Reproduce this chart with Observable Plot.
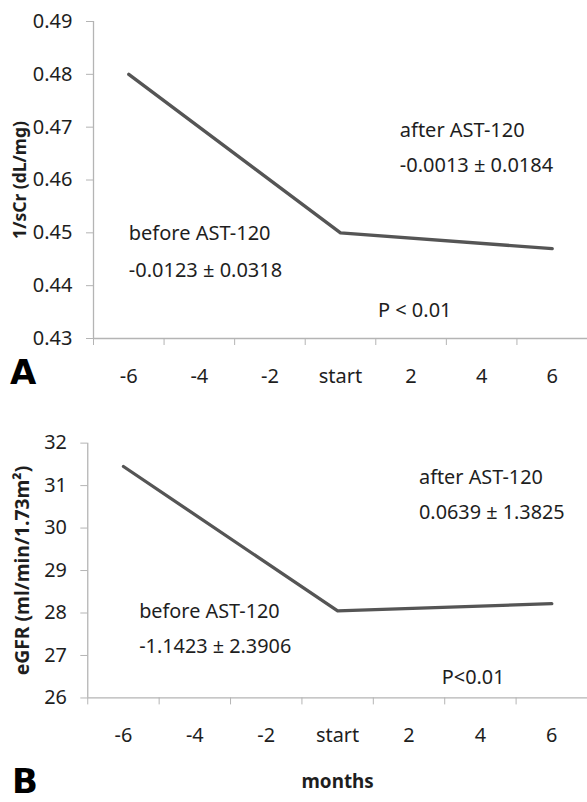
<!DOCTYPE html>
<html><head><meta charset="utf-8">
<script src="https://cdn.jsdelivr.net/npm/d3@7"></script>
<script src="https://cdn.jsdelivr.net/npm/@observablehq/plot@0.6"></script>
<style>
html,body{margin:0;padding:0;background:#fff;overflow:hidden;}
#fig{position:relative;width:587px;height:802px;overflow:hidden;font-family:"Noto Sans",sans-serif;}
.panel{position:absolute;left:0;}
.letter{position:absolute;font-family:"DejaVu Sans",sans-serif;font-weight:900;font-size:34px;line-height:0.8;color:#000;}
</style>
</head><body>
<div id="fig">
  <div id="pa" class="panel" style="top:0"></div>
  <div id="pb" class="panel" style="top:400px"></div>
  <div class="letter" style="left:10px;top:359px">A</div>
  <div class="letter" style="left:12px;top:768px">B</div>
</div>
<script>
// ---- data ----
const months = [-6, 0, 6];
const invSCr = [0.480, 0.450, 0.447];
const egfr = [31.45, 28.05, 28.22];
const tickMonths = [-6, -4, -2, 0, 2, 4, 6];
const tickLabels = ["-6", "-4", "-2", "start", "2", "4", "6"];
const bandEdges = [-7, -5, -3, -1, 1, 3, 5, 7];
const yTicksA = [0.43, 0.44, 0.45, 0.46, 0.47, 0.48, 0.49];
const yTicksB = [26, 27, 28, 29, 30, 31, 32];
const titleA = "1/sCr (dL/mg)";
const titleB = "eGFR (ml/min/1.73m\u00B2)";
const xTitle = "months";
const annA = ["after AST-120", "-0.0013 \u00B1 0.0184", "before AST-120", "-0.0123 \u00B1 0.0318", "P < 0.01"];
const annB = ["after AST-120", "0.0639 \u00B1 1.3825", "before AST-120", "-1.1423 \u00B1 2.3906", "P<0.01"];

const FONT = "Noto Sans, sans-serif";
const AX = "#b4b4b4";
const TXT = "#1e1e1e";
const LINE = "#555555";
const FS = 20;

function panel({values, yTicks, yDomain, title, titleSize, titleX, ann, annPos, width, height, mt, mb, ml, yFmt, xLabel}) {
  const rows = months.map((m, i) => ({m, v: values[i]}));
  const annRows = ann.map((t, i) => ({t, x: annPos[i][0], y: annPos[i][1]}));
  const marks = [
    Plot.ruleY([yDomain[0]], {stroke: AX, strokeWidth: 1.3}),
    Plot.ruleX([-7], {y1: yDomain[0], y2: yDomain[1], stroke: AX, strokeWidth: 1.3}),
    Plot.axisY(yTicks, {tickSize: 7, tickPadding: 14, tickFormat: yFmt, stroke: AX, fill: TXT, fontSize: FS, label: null}),
    Plot.axisX(bandEdges, {tickSize: 7, tickFormat: () => "", stroke: AX, label: null}),
    Plot.axisX(tickMonths, {tickSize: 0, tickPadding: 30, tickFormat: (d) => tickLabels[tickMonths.indexOf(d)], fill: TXT, fontSize: FS, label: null}),
    Plot.line(rows, {x: "m", y: "v", stroke: LINE, strokeWidth: 3.3, strokeLinejoin: "round"}),
    Plot.text(annRows, {x: "x", y: "y", text: "t", textAnchor: "start", fill: TXT, fontSize: FS}),
    Plot.text([title], {frameAnchor: "left", textAnchor: "middle", rotate: -90, dx: -(ml - titleX), fontWeight: "bold", fontSize: titleSize, fill: TXT})
  ];
  if (xLabel) marks.push(Plot.text([xLabel], {frameAnchor: "bottom", textAnchor: "middle", dy: 91, fontWeight: "bold", fontSize: 19, fill: TXT}));
  return Plot.plot({
    width, height,
    marginTop: mt, marginBottom: mb, marginLeft: ml, marginRight: 0,
    style: {fontFamily: FONT, background: "#fff", overflow: "visible"},
    x: {type: "linear", domain: [-7, 7]},
    y: {type: "linear", domain: yDomain},
    marks
  });
}

document.getElementById("pa").append(panel({
  values: invSCr, yTicks: yTicksA, yDomain: [0.43, 0.49], title: titleA, titleSize: 17.5, titleX: 20,
  ann: annA,
  annPos: [[1.68, 0.4694], [1.68, 0.4627], [-6.0, 0.4499], [-6.0, 0.4429], [1.06, 0.4353]],
  width: 587, height: 400, mt: 21, mb: 62, ml: 93,
  yFmt: (d) => d.toFixed(2)
}));

document.getElementById("pb").append(panel({
  values: egfr, yTicks: yTicksB, yDomain: [26, 32], title: titleB, titleSize: 19.5, titleX: 22,
  ann: annB,
  annPos: [[2.28, 31.18], [2.28, 30.37], [-5.56, 28.03], [-5.56, 27.21], [2.92, 26.47]],
  width: 592, height: 402, mt: 43, mb: 102, ml: 88,
  yFmt: (d) => String(d), xLabel: xTitle
}));
</script>
</body></html>
